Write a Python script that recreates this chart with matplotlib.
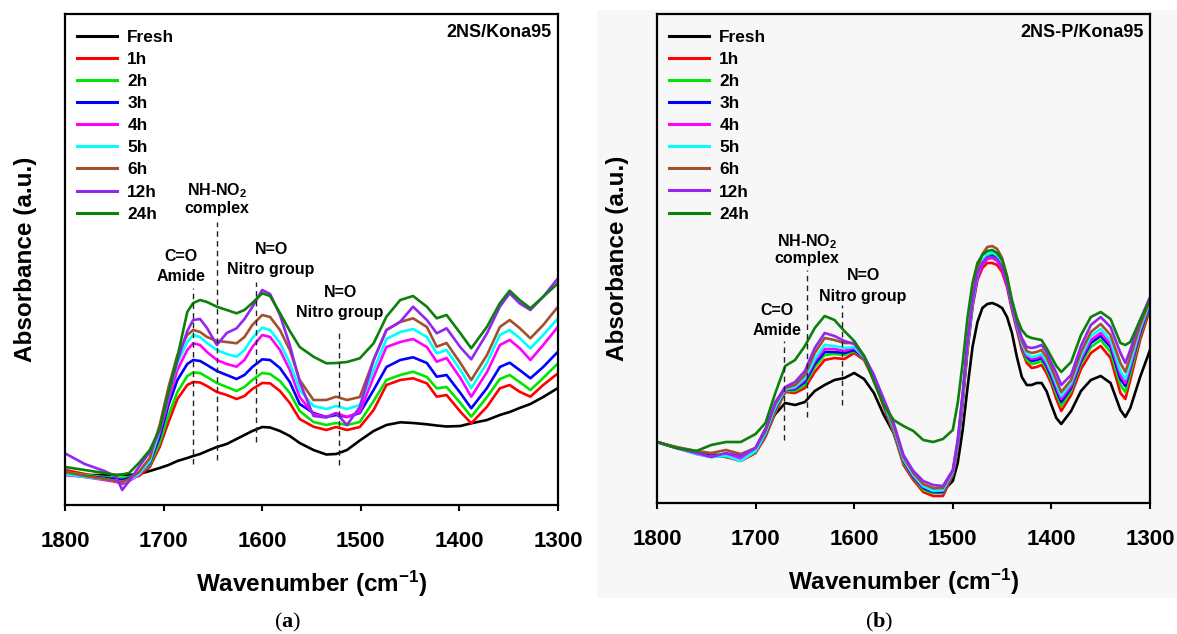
import matplotlib
matplotlib.use("Agg")
import matplotlib.pyplot as plt
from matplotlib.patches import Rectangle

plt.rcParams['font.family'] = ['Liberation Sans', 'DejaVu Sans']
plt.rcParams['font.weight'] = 'bold'
plt.rcParams['mathtext.fontset'] = 'custom'
plt.rcParams['mathtext.rm'] = 'Liberation Sans:bold'
plt.rcParams['mathtext.it'] = 'Liberation Sans:bold'
plt.rcParams['mathtext.bf'] = 'Liberation Serif:bold'

labels = ["Fresh", "1h", "2h", "3h", "4h", "5h", "6h", "12h", "24h"]
colors = ["#000000", "#ff0000", "#00e600", "#0000ff", "#ff00ff", "#00ffff",
          "#a0522d", "#9426f0", "#0b800b"]

# ---------------- panel (a): 2NS/Kona95 ----------------
wn_a = [1800, 1780, 1760, 1748, 1742, 1735, 1725, 1714, 1704, 1695, 1686, 1676, 1670, 1663,
        1656, 1646, 1636, 1626, 1618, 1610, 1600, 1592, 1582, 1572, 1562, 1548, 1535, 1525,
        1514, 1501, 1487, 1474, 1460, 1447, 1433, 1423, 1413, 1399, 1388, 1372, 1359, 1349,
        1339, 1328, 1315, 1300]
a_fresh = [32, 30, 30, 30, 30, 30, 31, 34, 37, 40, 44, 47, 49, 51, 54, 58, 61, 66, 70, 74, 78,
           77.5, 74, 69, 62, 55, 50.5, 51, 55, 64.5, 74, 80, 82.7, 82, 80.7, 79.5, 78.5, 79,
           81.7, 85, 90, 93, 97, 101, 108, 117]
a_1h = [35, 31, 27, 26, 25.5, 27, 29, 38, 58, 83, 106, 120, 123, 122.5, 119, 113, 110, 106,
        109, 116, 122, 121.7, 114, 102, 86, 78.3, 75, 78, 75, 78, 95, 120, 125, 126.7, 121.7,
        108.3, 110, 93.3, 81.7, 98.3, 116.7, 120, 113.3, 108.3, 120, 131.7]
a_2h = [33, 30, 28, 27, 27, 28, 31, 40, 62, 90, 113, 129, 132.5, 132, 128, 122, 118, 114, 118,
        125, 132, 131, 124, 112, 94, 83, 80, 82, 80, 83, 104, 125, 130, 133.3, 128, 116.7, 118,
        102, 88.3, 108, 126, 130, 123, 115, 127, 141.7]
a_3h = [32, 29, 27, 26, 25, 27, 31, 42, 68, 100, 125, 141, 145, 144, 140, 134, 130, 126, 130,
        138, 145.7, 145, 137, 123, 101, 92, 88, 90, 88, 92, 115, 138, 145, 147.7, 142, 128.3,
        130, 112, 96.7, 117, 138, 142.3, 135, 126.7, 138, 153.3]
a_4h = [30, 28, 25, 23, 21, 24, 30, 43, 72, 105, 135, 155, 161.7, 160, 153, 145, 141, 138.3,
        145, 158, 170, 168, 155, 135, 108, 91, 88, 92, 88, 93, 128, 158, 163, 166, 158, 143.3,
        147, 127, 108.3, 133, 160, 165, 157, 145, 160, 178.3]
a_5h = [31, 28, 26, 24, 23, 25, 31, 44, 75, 110, 142, 163, 170, 168, 162, 155, 151, 148.3, 155,
        167, 177.3, 175, 162, 142, 115, 99, 96, 99, 96, 100, 135, 166, 173, 176, 168, 151.7,
        155, 135, 116.7, 142, 170, 175, 167, 156.7, 170, 186.7]
a_6h = [33, 29, 26, 24, 23, 26, 33, 47, 80, 118, 150, 170, 175, 173, 168, 164, 163, 161.7, 168,
        180, 190, 188, 175, 155, 125, 105, 105, 108.3, 105, 108, 145, 175, 183, 186.7, 178,
        158.3, 162, 142, 125, 150, 178, 185, 177, 166.7, 180, 198.3]
a_12h = [51.7, 41, 34, 28.3, 15, 24, 38, 53, 75, 110, 144, 174, 185, 186, 177, 160, 172, 176.7,
         186, 198, 215, 211, 190, 160, 123, 89, 87.5, 91.7, 80, 98, 145, 175, 183.3, 198.3, 185,
         171.7, 176.7, 157.7, 145.7, 171.7, 198.3, 211.7, 201.7, 195, 208.3, 226.7]
a_24h = [38, 35, 32, 30, 30.5, 32, 42, 55, 76, 113, 148, 193, 202, 205, 203, 198.3, 195, 191.7,
         195, 202, 211.7, 209, 192, 174, 158, 148.3, 141.7, 142, 143, 146.7, 161.7, 188.3, 205,
         209, 198.3, 186.7, 190, 171.7, 156.7, 178.3, 201.7, 214.3, 205, 196.7, 208.3, 221.7]

# ---------------- panel (b): 2NS-P/Kona95 ----------------
wn_b = [1800, 1780, 1760, 1745, 1730, 1715, 1700, 1690, 1680, 1670, 1660, 1650, 1640, 1630,
        1620, 1610, 1600, 1590, 1580, 1570, 1560, 1550, 1540, 1530,
        1520, 1510, 1500, 1495, 1490, 1485, 1480, 1475, 1470, 1465, 1460, 1455, 1450, 1445,
        1440, 1435, 1430, 1425, 1420, 1415, 1410, 1405, 1400, 1395, 1390, 1380, 1370, 1360,
        1350, 1340, 1330, 1325, 1320, 1310, 1300]
b_fresh = [61, 55, 50, 48.5, 47.5, 48, 55, 74, 89, 100, 98, 101, 112, 118, 123, 125, 130, 124,
           110, 88, 70, 44, 28, 16,
           11, 12, 22, 40, 73, 116, 156, 181, 195, 199, 200, 198, 195, 186, 170, 146, 126, 118,
           118, 120, 120, 112, 98, 85, 79, 92, 112, 123, 127, 120, 93, 86, 95, 126, 153]
b_1h = [61, 55, 50, 48, 46, 42, 50, 66, 90, 111, 110, 115, 131, 143, 145, 144, 150, 143, 123,
        96, 70, 38, 23, 11,
        7, 7, 28, 55, 100, 153, 196, 223, 235, 240, 240, 238, 231, 216, 193, 173, 153, 140,
        135, 136, 138, 130, 119, 104, 92, 108, 134, 150, 157, 145, 110, 104, 123, 163, 194]
b_2h = [61, 55, 50, 47, 47, 43, 51, 68, 92, 112, 112, 118, 136, 148, 149, 148, 152, 144, 124,
        98, 72, 40, 25, 13,
        10, 10, 29, 57, 102, 155, 198, 226, 240, 247, 249, 246, 237, 219, 195, 175, 156, 143,
        139, 140, 142, 134, 123, 109, 97, 112, 139, 156, 163, 151, 118, 111, 129, 167, 197]
b_3h = [61, 55, 50, 47, 47, 44, 52, 69, 94, 113, 114, 121, 139, 151, 151, 150, 153, 145, 125,
        99, 74, 42, 26, 15,
        11, 11, 30, 58, 104, 157, 199, 226, 239, 245, 247, 244, 235, 219, 196, 176, 157, 146,
        142, 143, 145, 137, 126, 113, 101, 115, 142, 160, 167, 156, 124, 117, 134, 170, 199]
b_4h = [61, 55, 49, 46, 48, 44, 52, 70, 95, 113, 115, 123, 142, 154, 154, 152, 155, 145, 126,
        100, 75, 43, 27, 16,
        13, 12, 30, 59, 105, 158, 199, 226, 238, 244, 245, 242, 234, 218, 196, 176, 158, 147,
        144, 145, 147, 139, 129, 116, 104, 117, 144, 163, 170, 159, 128, 120, 136, 172, 200]
b_5h = [61, 55, 49, 46, 47, 42, 52, 70, 96, 114, 116, 125, 144, 158, 157, 155, 156, 146, 126,
        100, 75, 44, 28, 17,
        12, 13, 31, 60, 106, 159, 201, 229, 243, 249, 251, 248, 239, 222, 198, 178, 160, 149,
        146, 147, 149, 142, 131, 119, 107, 120, 147, 167, 174, 163, 132, 124, 140, 175, 201]
b_6h = [61, 56, 52, 50, 53, 49, 55, 72, 99, 115, 118, 128, 150, 165, 163, 160, 160, 147, 127,
        102, 77, 46, 30, 19,
        15, 15, 32, 62, 108, 161, 205, 234, 249, 256, 257, 254, 245, 227, 200, 179, 162, 152,
        150, 151, 153, 146, 135, 123, 111, 123, 151, 171, 179, 168, 140, 131, 146, 178, 203]
b_12h = [61, 55, 50, 46, 50, 47, 55, 74, 101, 116, 121, 132, 155, 170, 167, 162, 159, 147, 128,
         104, 80, 48, 32, 22,
         18, 17, 33, 63, 110, 163, 203, 230, 240, 246, 246, 244, 236, 221, 198, 180, 165, 156,
         155, 156, 158, 151, 140, 130, 118, 128, 157, 178, 186, 176, 150, 140, 153, 183, 206]
b_24h = [61, 55, 52, 58, 61, 61, 69, 80, 110, 137, 143, 157, 175, 187, 183, 172, 162, 147, 121,
         98, 83, 77, 72, 63,
         61, 64, 73, 100, 140, 186, 220, 240, 248, 252, 253, 250, 243, 226, 203, 185, 173, 167,
         165, 164, 163, 155, 146, 137, 131, 141, 168, 186, 191, 184, 160, 158, 161, 183, 203]

series_a = [a_fresh, a_1h, a_2h, a_3h, a_4h, a_5h, a_6h, a_12h, a_24h]
series_b = [b_fresh, b_1h, b_2h, b_3h, b_4h, b_5h, b_6h, b_12h, b_24h]

# annotations: (text, wavenumber, baseline value)
notes_a = [("NH-NO$_2$", 1646, 310), ("complex", 1646, 292),
           ("C=O", 1682, 244), ("Amide", 1682, 224),
           ("N=O", 1591, 251), ("Nitro group", 1591, 231),
           ("N=O", 1521, 208), ("Nitro group", 1521, 188)]
marks_a = [(1670, 41, 217), (1646, 45, 283), (1606, 63, 223), (1522, 40, 174)]
notes_b = [("NH-NO$_2$", 1648, 257), ("complex", 1648, 240),
           ("N=O", 1591, 223), ("Nitro group", 1591, 202),
           ("C=O", 1678, 188), ("Amide", 1678, 168)]
marks_b = [(1671, 63, 162), (1648, 86, 233), (1612, 98, 198)]

W, H = 1177, 634
fig = plt.figure(figsize=(W / 100, H / 100), dpi=100)
fig.patch.set_facecolor("white")
bg = "#f7f7f7"
fig.patches.append(Rectangle((597 / W, 1 - 598 / H), 1 - 597 / W, (598 - 10) / H,
                             transform=fig.transFigure, facecolor=bg, edgecolor="none",
                             zorder=-10))

ax_a = fig.add_axes([65 / W, 1 - 505 / H, 493 / W, 491 / H])
ax_b = fig.add_axes([657 / W, 1 - 503 / H, 493 / W, 489 / H])
ax_b.set_facecolor(bg)


def draw(ax, wn, series, notes, marks, title, ymax, tag, tagx):
    for ys, lab, c in zip(series, labels, colors):
        ax.plot(wn, ys, color=c, lw=1.9, label=lab, solid_joinstyle="round")
    for w, y0, y1 in marks:
        ax.plot([w, w], [y0, y1], color="#222222", lw=1.0, ls=(0, (4, 3)))
    for t, w, y in notes:
        ax.text(w, y, t, ha="center", va="baseline", fontsize=11.5, fontweight="bold")
    ax.set_xlim(1800, 1300)
    ax.set_ylim(0, ymax)
    ax.set_xticks([1800, 1700, 1600, 1500, 1400, 1300])
    ax.set_yticks([])
    for s in ax.spines.values():
        s.set_linewidth(1.6)
    ax.tick_params(axis="x", direction="out", length=4.5, width=1.5, labelsize=16, pad=14)
    for lbl in ax.get_xticklabels():
        lbl.set_fontweight("bold")
    ax.set_xlabel("Wavenumber (cm$^{-1}$)", fontsize=17.5, fontweight="bold", labelpad=12)
    ax.set_ylabel("Absorbance (a.u.)", fontsize=17.5, fontweight="bold", labelpad=20)
    ax.text(0.987, 0.953, title, transform=ax.transAxes, ha="right", va="baseline",
            fontsize=13, fontweight="bold")
    leg = ax.legend(loc="upper left", bbox_to_anchor=(0.025, 0.968), frameon=False,
                    fontsize=12.4, handlelength=2.3, handletextpad=0.6, labelspacing=0.41,
                    borderpad=0, borderaxespad=0)
    for t in leg.get_texts():
        t.set_fontweight("bold")
    for h in leg.get_lines():
        h.set_linewidth(2.2)
    fig.text(tagx, 1 - 622 / H, tag, ha="center", va="center", fontsize=16,
             fontfamily="Liberation Serif", fontweight="normal")


draw(ax_a, wn_a, series_a, notes_a, marks_a, "2NS/Kona95", 491, r"($\mathbf{a}$)", 288 / W)
draw(ax_b, wn_b, series_b, notes_b, marks_b, "2NS-P/Kona95", 489, r"($\mathbf{b}$)", 879 / W)

fig.savefig("out.png", dpi=100)
